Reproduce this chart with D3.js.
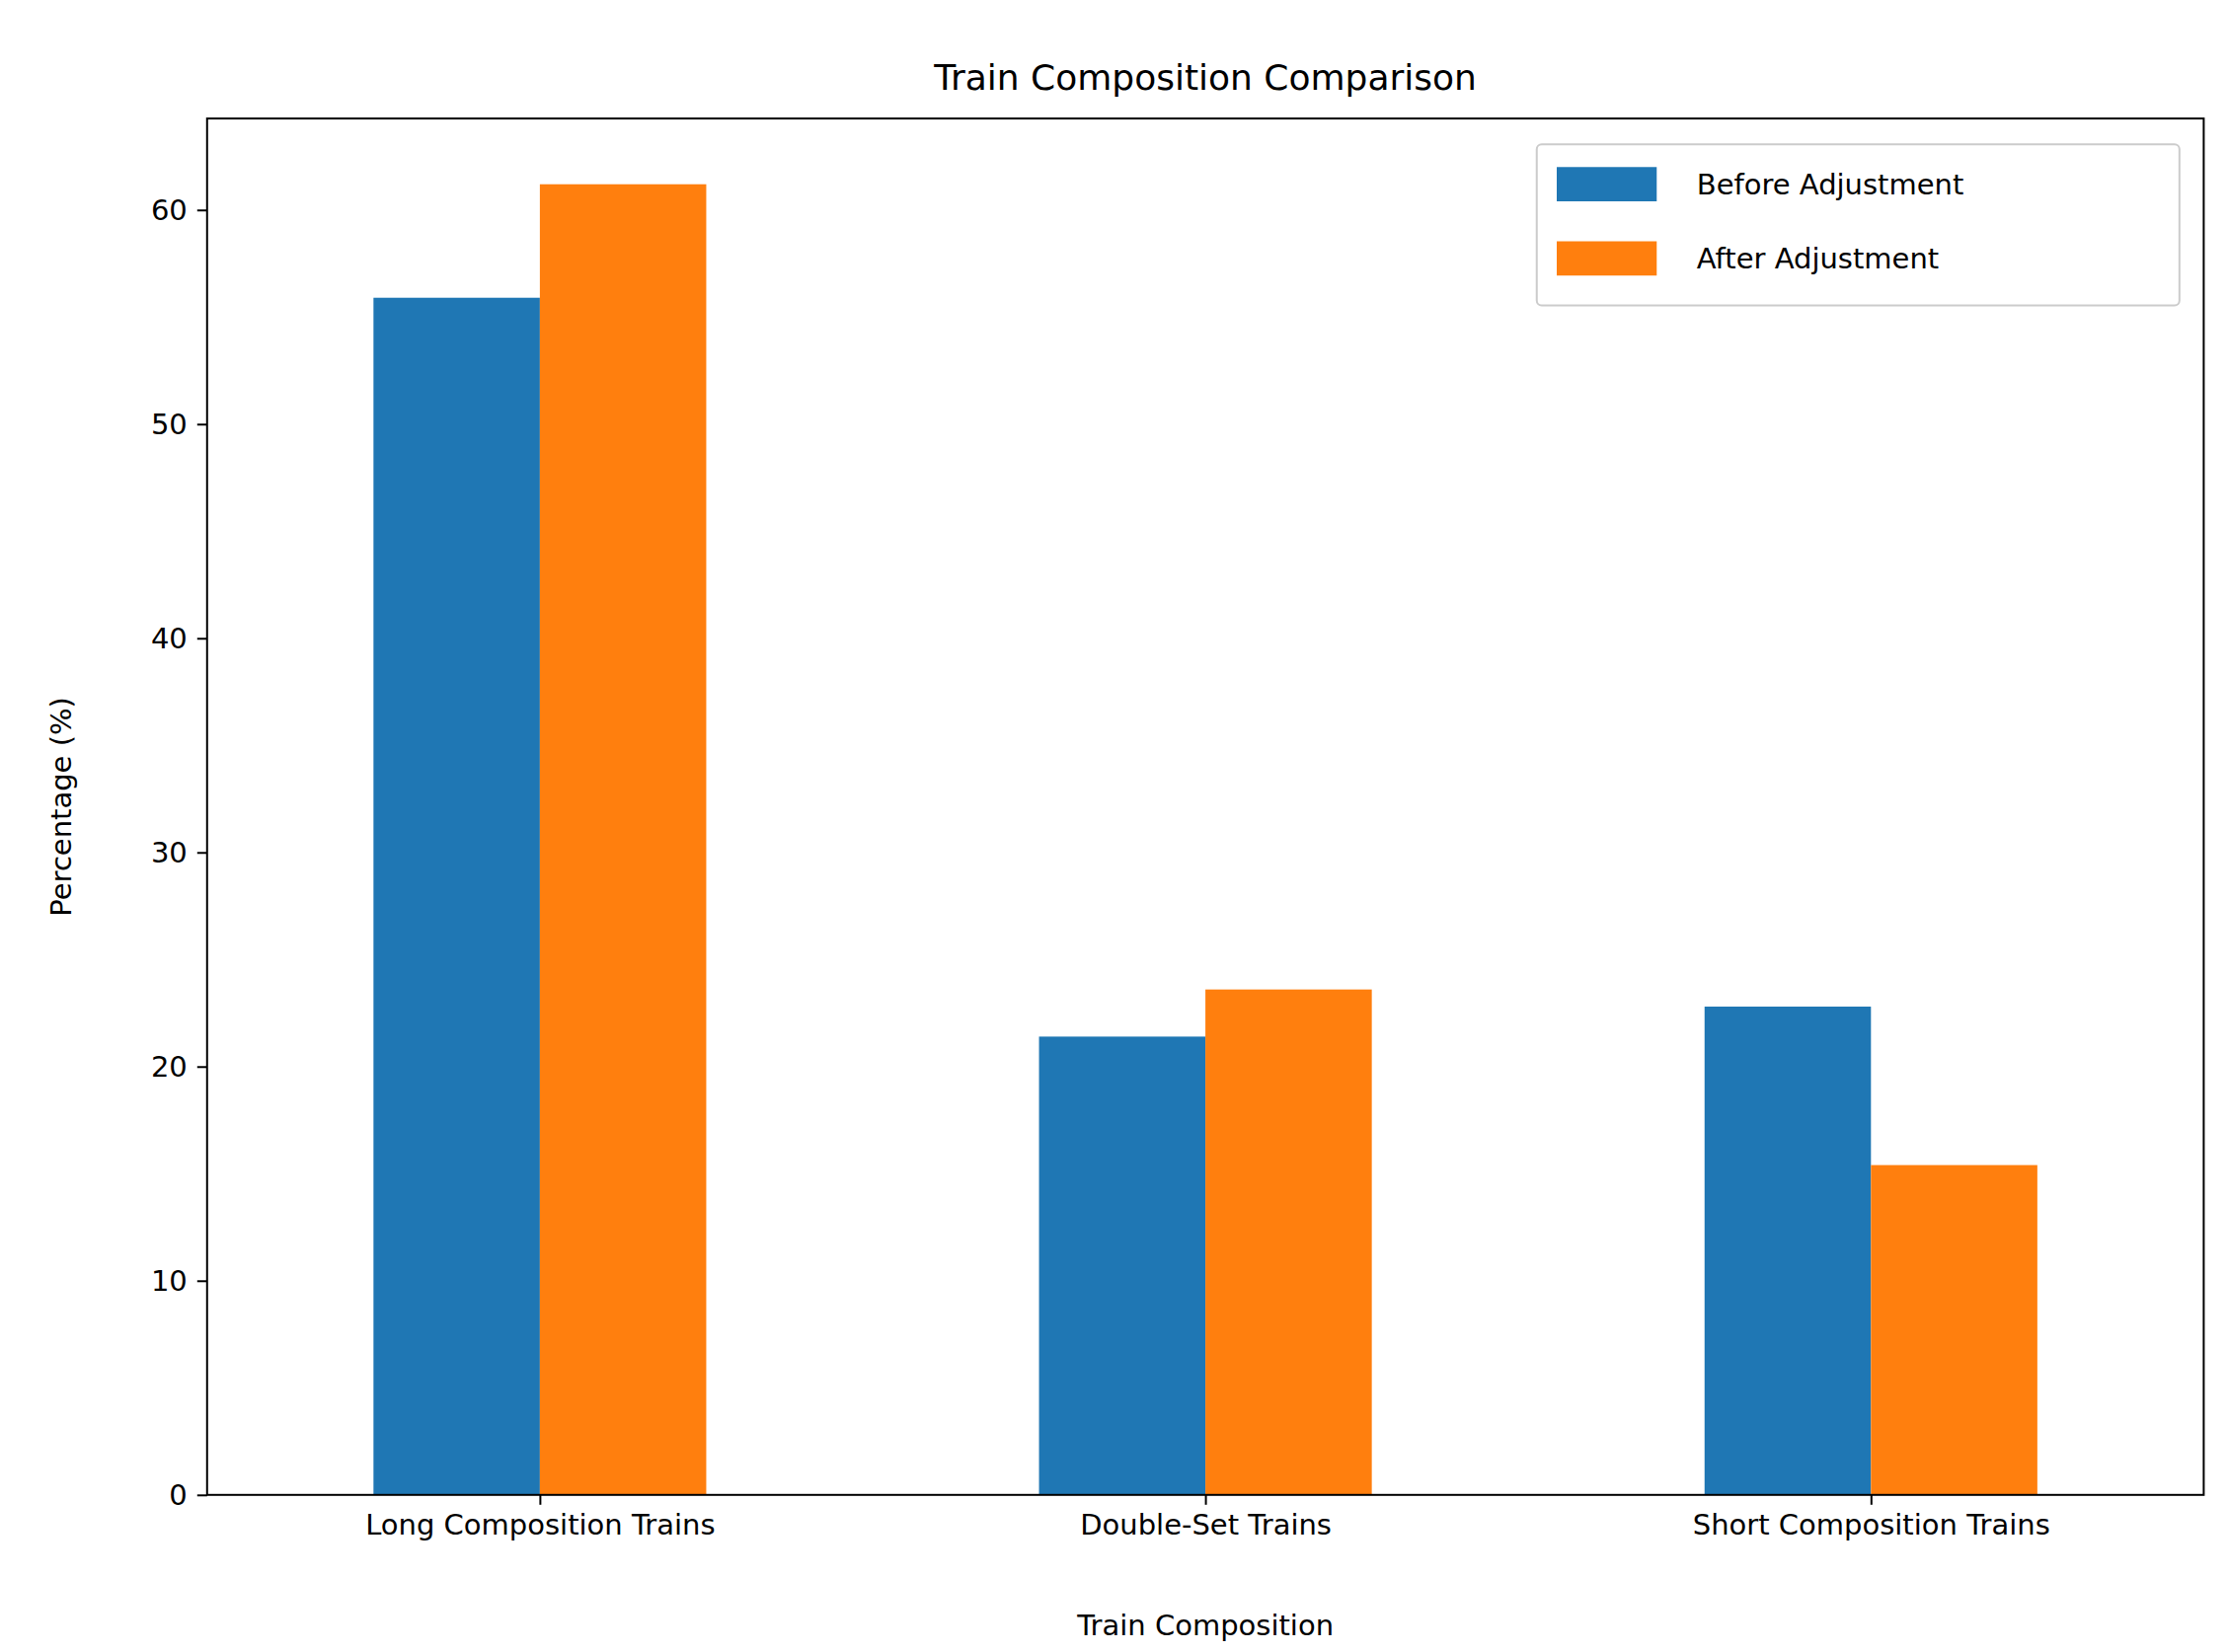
<!DOCTYPE html>
<html><head><meta charset="utf-8">
<script src="https://cdn.jsdelivr.net/npm/d3@7"></script>
<style>body{margin:0;background:#fff}text{font-family:"DejaVu Sans",sans-serif;fill:#000}</style>
</head><body><svg id="c" width="2257" height="1674"></svg>
<script>
const categories = ["Long Composition Trains","Double-Set Trains","Short Composition Trains"];
const beforeValues = [55.9, 21.4, 22.8];
const afterValues = [61.2, 23.6, 15.4];
const seriesNames = ["Before Adjustment","After Adjustment"];
const colors = ["#1f77b4","#ff7f0e"];
const yTicks = [0,10,20,30,40,50,60];

const s = 2257/1560;
const L=145*s, R=1543*s, T=83*s, B=1047*s;
const svg = d3.select("#c");
const x = d3.scaleLinear().domain([-0.5,2.5]).range([L,R]);
const y = d3.scaleLinear().domain([0,64.27]).range([B,T]);
const bw = 0.25;
const series=[beforeValues, afterValues];
series.forEach((vals,si)=>{
  svg.append("g").selectAll("rect").data(vals).join("rect")
    .attr("x",(d,i)=>x(i+(si===0?-bw:0)))
    .attr("width",x(bw)-x(0))
    .attr("y",d=>y(d)).attr("height",d=>y(0)-y(d))
    .attr("fill",colors[si]);
});
const fs=29;
const ya=svg.append("g").attr("transform",`translate(${L},0)`)
  .call(d3.axisLeft(y).tickValues(yTicks).tickSize(10).tickPadding(10));
const xa=svg.append("g").attr("transform",`translate(0,${B})`)
  .call(d3.axisBottom(x).tickValues([0,1,2]).tickFormat(i=>categories[i]).tickSize(10).tickPadding(10));
[ya,xa].forEach(a=>{a.select(".domain").remove();a.selectAll("line").attr("stroke","#000").attr("stroke-width",2);a.selectAll("text").attr("font-size",fs).attr("font-family","DejaVu Sans");});
svg.append("rect").attr("x",L).attr("y",T).attr("width",R-L).attr("height",B-T).attr("fill","none").attr("stroke","#000").attr("stroke-width",2);
svg.append("text").attr("x",(L+R)/2).attr("y",63*s).attr("text-anchor","middle").attr("font-size",36).text("Train Composition Comparison");
svg.append("text").attr("x",(L+R)/2).attr("y",1145*s).attr("text-anchor","middle").attr("font-size",fs).text("Train Composition");
svg.append("text").attr("transform",`translate(${50*s},${(T+B)/2}) rotate(-90)`).attr("text-anchor","middle").attr("font-size",fs).text("Percentage (%)");
const lg=svg.append("g");
lg.append("rect").attr("x",1076*s).attr("y",101*s).attr("width",450*s).attr("height",113*s).attr("rx",5).attr("fill","#fff").attr("stroke","#ccc").attr("stroke-width",2);
seriesNames.forEach((n,i)=>{
  lg.append("rect").attr("x",1090*s).attr("y",(117+52*i)*s).attr("width",70*s).attr("height",24*s).attr("fill",colors[i]);
  lg.append("text").attr("x",1188*s).attr("y",(129+52*i)*s).attr("dy","0.35em").attr("font-size",fs).text(n);
});
</script></body></html>
